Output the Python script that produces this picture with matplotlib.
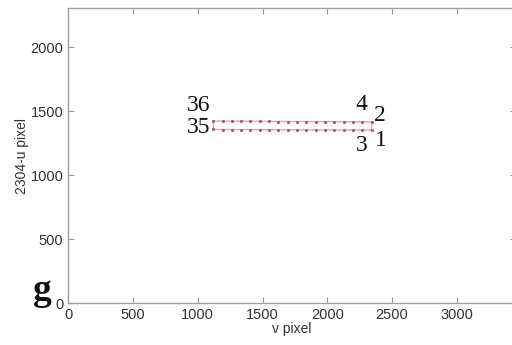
import matplotlib
matplotlib.use("Agg")
import matplotlib.pyplot as plt

# Grid points (v, 2304-u); odd ids on the lower row, even ids on the upper row
point_ids = list(range(1, 37))
v_lower = [2343, 2271, 2199, 2127, 2055, 1983, 1911, 1839, 1767,
           1695, 1623, 1551, 1479, 1407, 1335, 1263, 1191, 1119]
u_lower = [1352, 1352, 1353, 1353, 1353, 1354, 1354, 1354, 1355,
           1355, 1355, 1356, 1356, 1356, 1357, 1357, 1357, 1358]
v_upper = [2343, 2271, 2199, 2127, 2055, 1983, 1911, 1839, 1767,
           1695, 1623, 1551, 1479, 1407, 1335, 1263, 1191, 1119]
u_upper = [1417, 1417, 1418, 1418, 1418, 1419, 1419, 1419, 1420,
           1420, 1420, 1421, 1421, 1421, 1422, 1422, 1422, 1423]

x_ticks = [0, 500, 1000, 1500, 2000, 2500, 3000]
y_ticks = [0, 500, 1000, 1500, 2000]
x_max, y_max = 3456, 2304

labelled = {1: (9, -10), 2: (8, 6), 3: (-1, -15), 4: (-1, 17),
            35: (-15, 2), 36: (-15, 16)}

fig = plt.figure(figsize=(5.12, 3.45), dpi=100)
ax = fig.add_axes([0.1334, 0.1206, 0.874, 0.8554])

# outline of the pattern
outline_v = [v_lower[0], v_upper[0], v_upper[-1], v_lower[-1], v_lower[0]]
outline_u = [u_lower[0], u_upper[0], u_upper[-1], u_lower[-1], u_lower[0]]
ax.plot(outline_v, outline_u, color="#e8a8bc", lw=1.0, zorder=2)

for vs, us in ((v_lower, u_lower), (v_upper, u_upper)):
    ax.plot(vs, us, color="#eab0c0", lw=0.9, ls=(0, (3, 2)), zorder=2)
    ax.plot(vs, us, ls="none", marker=".", ms=2.5, color="#a45a7c", zorder=3)

# point numbers
for pid, (dx, dy) in labelled.items():
    idx = (pid - 1) // 2
    if pid % 2:
        px, py = v_lower[idx], u_lower[idx]
    else:
        px, py = v_upper[idx], u_upper[idx]
    ax.annotate(str(pid), (px, py), xytext=(dx, dy), textcoords="offset pixels",
                ha="center", va="center", fontsize=17,
                family="Liberation Serif", color="#111111")

ax.set_xlim(0, x_max)
ax.set_ylim(0, y_max)
ax.set_xticks(x_ticks)
ax.set_yticks(y_ticks)
ax.tick_params(direction="in", length=4, width=0.8, color="#999999",
               labelsize=10.5, labelcolor="#333333", top=True, right=True, pad=3.5)
for lab in ax.get_xticklabels() + ax.get_yticklabels():
    lab.set_family("Liberation Sans")
for sp in ax.spines.values():
    sp.set_color("#a0a0a0")
    sp.set_linewidth(1.0)

ax.set_xlabel("v pixel", fontsize=10, family="Liberation Sans",
              color="#333333", labelpad=0)
ax.set_ylabel("2304-u pixel", fontsize=10, family="Liberation Sans",
              color="#333333", labelpad=1)

fig.text(0.064, 0.13, "g", fontsize=27, fontweight="bold",
         family="Liberation Serif", color="#111111", ha="left", va="baseline")

fig.savefig("out.png", dpi=100)
